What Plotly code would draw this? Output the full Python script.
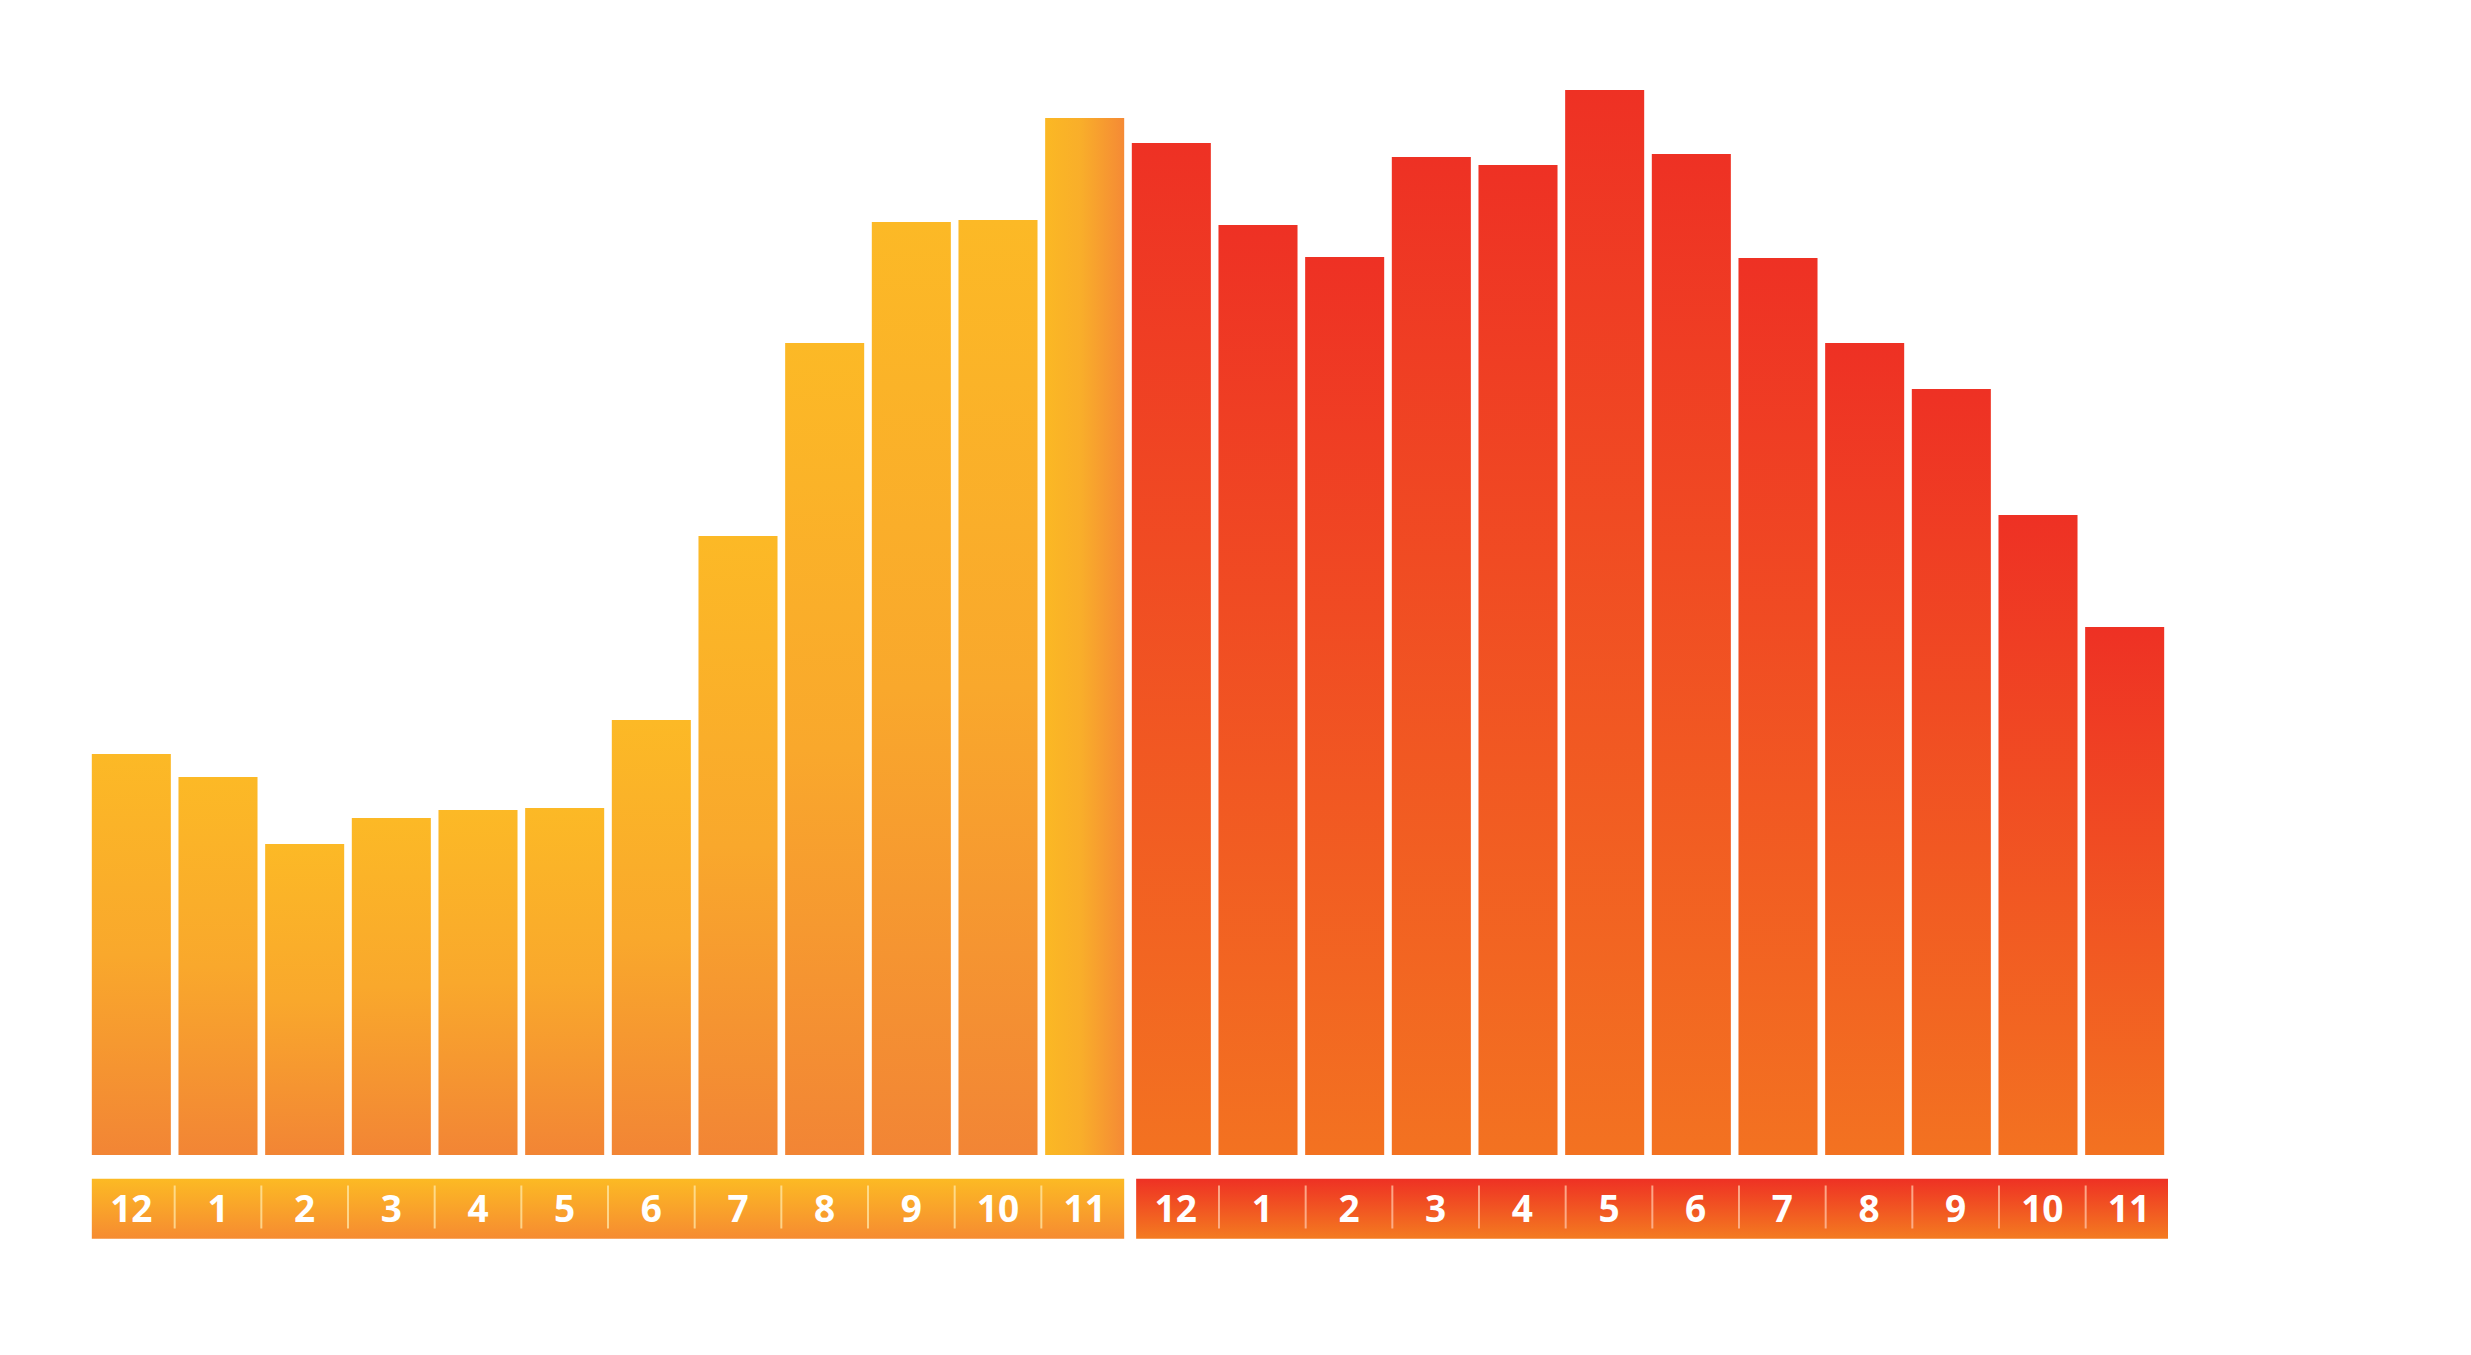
import plotly.graph_objects as go

# ---- data ----
am_labels = ["12", "1", "2", "3", "4", "5", "6", "7", "8", "9", "10", "11"]
pm_labels = ["12", "1", "2", "3", "4", "5", "6", "7", "8", "9", "10", "11"]
am_values = [40.1, 37.8, 31.1, 33.7, 34.5, 34.7, 43.5, 61.9, 81.2, 93.3, 93.5, 103.7]
pm_values = [101.2, 93.0, 89.8, 99.8, 99.0, 106.5, 100.1, 89.7, 81.2, 76.6, 64.0, 52.8]

# ---- styles ----
BAR_W = 0.912
AM_SCALE = [[0.0, "#F28535"], [0.5, "#F9A82C"], [1.0, "#FCB926"]]
PM_SCALE = [[0.0, "#F37221"], [1.0, "#EE3124"]]
AM_LAST_SCALE = [[0.0, "#FBB824"], [0.45, "#F9AE2A"], [1.0, "#F58A35"]]
AM_STRIP = [[0.0, "#F68B31"], [1.0, "#FCBA24"]]
PM_STRIP = [[0.0, "#F47B20"], [1.0, "#EE3124"]]
STRIP_TOP, STRIP_BOT = -2.38, -8.38
SEP_TOP, SEP_BOT = -3.05, -7.35
LABEL_DROP = 0.35
PM_SHIFT = 0.05

fig = go.Figure()


def add_rect(x0, x1, y0, y1, gtype, scale):
    if gtype == "vertical":
        start, stop = y0, y1
    else:
        start, stop = x0, x1
    fig.add_trace(go.Scatter(
        x=[x0, x1, x1, x0, x0], y=[y0, y0, y1, y1, y0],
        mode="none", fill="toself",
        fillgradient=dict(type=gtype, colorscale=scale, start=start, stop=stop),
        hoverinfo="skip", showlegend=False,
    ))


n_am = len(am_values)
for i, v in enumerate(am_values):
    if i == n_am - 1:
        add_rect(i - BAR_W / 2, i + BAR_W / 2, 0, v, "horizontal", AM_LAST_SCALE)
    else:
        add_rect(i - BAR_W / 2, i + BAR_W / 2, 0, v, "vertical", AM_SCALE)
for j, v in enumerate(pm_values):
    i = n_am + j
    add_rect(i - BAR_W / 2, i + BAR_W / 2, 0, v, "vertical", PM_SCALE)

# label strips
add_rect(-BAR_W / 2, n_am - 1 + BAR_W / 2, STRIP_BOT, STRIP_TOP, "vertical", AM_STRIP)
add_rect(n_am - BAR_W / 2 + PM_SHIFT, n_am + len(pm_values) - 1 + BAR_W / 2 + PM_SHIFT,
         STRIP_BOT, STRIP_TOP, "vertical", PM_STRIP)


# separators
def seps(offset, count, shift):
    xs, ys = [], []
    for k in range(count - 1):
        xx = offset + k + 0.5 + shift
        xs += [xx, xx, None]
        ys += [SEP_TOP, SEP_BOT, None]
    return xs, ys


xs, ys = seps(0, n_am, 0)
fig.add_trace(go.Scatter(x=xs, y=ys, mode="lines",
                         line=dict(color="rgba(255,232,170,0.75)", width=2),
                         hoverinfo="skip", showlegend=False))
xs, ys = seps(n_am, len(pm_values), PM_SHIFT)
fig.add_trace(go.Scatter(x=xs, y=ys, mode="lines",
                         line=dict(color="rgba(255,190,160,0.8)", width=2),
                         hoverinfo="skip", showlegend=False))

# labels
mid = (STRIP_TOP + STRIP_BOT) / 2 - LABEL_DROP
fig.add_trace(go.Scatter(
    x=list(range(n_am)) + [n_am + j + PM_SHIFT for j in range(len(pm_values))],
    y=[mid] * (n_am + len(pm_values)),
    text=am_labels + pm_labels, mode="text",
    textfont=dict(family="Open Sans", size=37, color="white", weight="bold"),
    textposition="middle center", hoverinfo="skip", showlegend=False,
))

fig.update_layout(
    width=2455, height=1339,
    margin=dict(l=80, r=295, t=40, b=39, pad=0),
    paper_bgcolor="white", plot_bgcolor="white",
    xaxis=dict(range=[-0.5, 23.5], visible=False, fixedrange=True),
    yaxis=dict(range=[-15.3, 110.7], visible=False, fixedrange=True),
    showlegend=False, hovermode=False,
)

fig.write_html("out.html")
